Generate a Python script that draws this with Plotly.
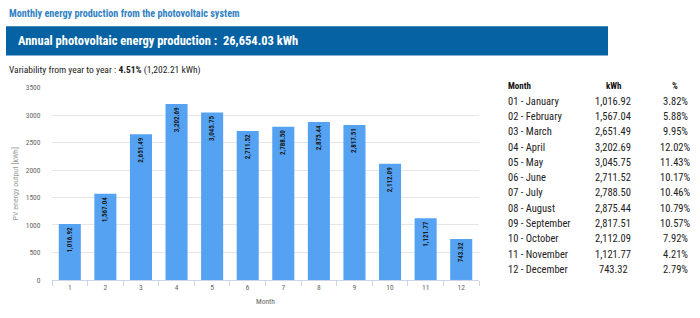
import plotly.graph_objects as go

months = [str(i) for i in range(1, 13)]
month_names = ["01 - January", "02 - February", "03 - March", "04 - April", "05 - May",
               "06 - June", "07 - July", "08 - August", "09 - September", "10 - October",
               "11 - November", "12 - December"]
kwh = [1016.92, 1567.04, 2651.49, 3202.69, 3045.75, 2711.52, 2788.50, 2875.44,
       2817.51, 2112.09, 1121.77, 743.32]
pct = [3.82, 5.88, 9.95, 12.02, 11.43, 10.17, 10.46, 10.79, 10.57, 7.92, 4.21, 2.79]
y_ticks = [0, 500, 1000, 1500, 2000, 2500, 3000, 3500]
table_header = ["Month", "kWh", "%"]
title_text = "Monthly energy production from the photovoltaic system"
banner_text = "Annual photovoltaic energy production :  26,654.03 kWh"
var_text = "Variability from year to year : <b>4.51%</b> (1,202.21 kWh)"

W, H = 700, 318
FONT = "Roboto Condensed, Roboto, sans-serif"

def fmt(v):
    return f"{v:,.2f}"

fig = go.Figure()
fig.add_trace(go.Bar(
    x=months, y=kwh, marker=dict(color="#55a2f3", line=dict(width=0)),
    width=0.62,
    text=[f"<b>{fmt(v)}</b>" for v in kwh], textposition="inside",
    insidetextanchor="end", textangle=-90,
    textfont=dict(family=FONT, size=7, color="#1a1a1a"),
    cliponaxis=False, hoverinfo="skip",
))

def py(y):
    return 1 - y / H

annotations = [
    dict(text=f"<b>{title_text}</b>", x=7 / W, y=py(10), xanchor="left",
         font=dict(family=FONT, size=10.2, color="#3282c4")),
    dict(text=f"<b>{banner_text}</b>", x=16 / W, y=py(38), xanchor="left",
         font=dict(family=FONT, size=12.5, color="white")),
    dict(text=var_text, x=7 / W, y=py(68), xanchor="left",
         font=dict(family=FONT, size=9.5, color="#222222")),
]

# table
col_x = [506, 613, 675]
col_anchor = ["left", "center", "center"]
for j, h in enumerate(table_header):
    annotations.append(dict(text=f"<b>{h}</b>", x=col_x[j] / W, y=py(84), xanchor=col_anchor[j],
                            font=dict(family=FONT, size=9, color="#111111")))
for i in range(12):
    yy = py(100 + i * 15.73)
    row = [month_names[i], fmt(kwh[i]), f"{pct[i]:.2f}%"]
    for j, t in enumerate(row):
        annotations.append(dict(text=t, x=col_x[j] / W, y=yy, xanchor=col_anchor[j],
                                font=dict(family=FONT, size=10.5, color="#222222")))

for a in annotations:
    a.update(xref="paper", yref="paper", yanchor="middle", showarrow=False)

fig.update_layout(
    width=W, height=H, margin=dict(l=0, r=0, t=0, b=0),
    paper_bgcolor="white", plot_bgcolor="white", showlegend=False,
    xaxis=dict(domain=[52 / W, 479 / W], type="category", tickson="boundaries",
               ticks="outside", ticklen=5, tickcolor="#ccd6eb",
               showline=True, linecolor="#ccd6eb", linewidth=1, showgrid=False,
               tickfont=dict(family=FONT, size=7.5, color="#666666"),
               title=dict(text="Month", font=dict(family=FONT, size=7.5, color="#666666"),
                          standoff=7)),
    yaxis=dict(domain=[34 / H, 1 - 86 / H], range=[0, 3500], tickvals=y_ticks,
               showgrid=True, gridcolor="#e6e6e6", gridwidth=1, zeroline=False,
               ticks="outside", ticklen=9, tickcolor="rgba(0,0,0,0)",
               tickfont=dict(family=FONT, size=7.5, color="#666666"),
               title=dict(text="PV energy output [kWh]",
                          font=dict(family=FONT, size=8, color="#999999"), standoff=5)),
    shapes=[dict(type="rect", xref="paper", yref="paper", x0=6 / W, x1=608 / W,
                 y0=py(53), y1=py(23), fillcolor="#0662a2", line=dict(width=0),
                 layer="below")],
    annotations=annotations,
)

fig.write_html("out.html")
